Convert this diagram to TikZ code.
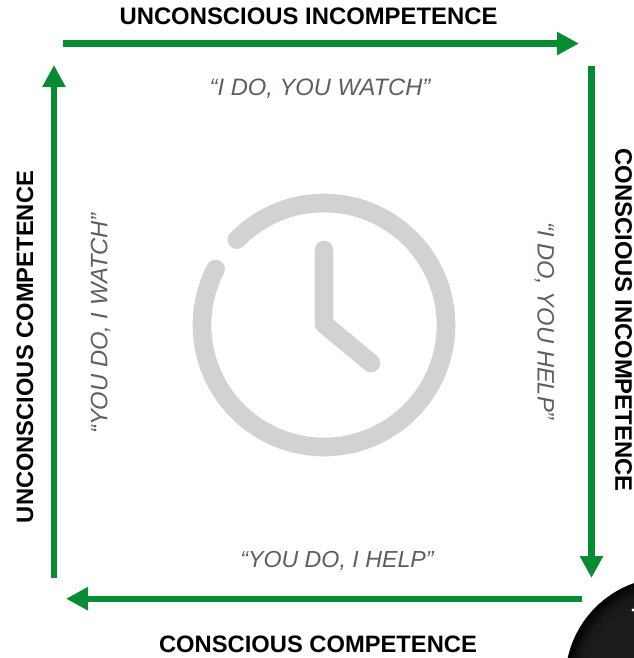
\documentclass[tikz,border=0pt]{standalone}
\usepackage{fontspec}
\setmainfont{Liberation Sans}
\usetikzlibrary{arrows.meta}
\definecolor{arrowgreen}{HTML}{078B33}
\definecolor{quotegray}{HTML}{5A5F66}
\definecolor{clockgray}{HTML}{D2D2D2}
\tikzset{
  x=0.75pt,y=-0.75pt,
  cycleArrow/.style={draw=arrowgreen,line width=4.6pt,-{Triangle[length=16.5pt,width=16.5pt,fill=arrowgreen]}},
  stageLabel/.style={font=\fontsize{17.9pt}{20pt}\selectfont\bfseries,text=black,inner sep=0pt},
  stageLabelTight/.style={font=\fontsize{17.8pt}{20pt}\selectfont\bfseries,text=black,inner sep=0pt},
  quoteLabel/.style={font=\fontsize{17.8pt}{20pt}\selectfont\itshape,text=quotegray,inner sep=0pt},
  quoteLabelTight/.style={font=\fontsize{17.4pt}{20pt}\selectfont\itshape,text=quotegray,inner sep=0pt},
  clockStroke/.style={draw=clockgray,line width=14pt,line cap=round,line join=round},
}
\begin{document}
\begin{tikzpicture}
\useasboundingbox (0,0) rectangle (634,658);
% dark sphere, cut by the picture edge
\begin{scope}
  \clip (0,0) rectangle (634,658);
  \fill[black!99] (668,680) circle[radius=77pt];
  \foreach \r/\k in {76/98,74/96,72/94,70/92,67/90,62/89}
    \fill[black!\k] (668,680) circle[radius=\r pt];
  \fill[white] (633,610) circle[radius=1.2pt];
\end{scope}
% clock
\draw[clockStroke] (324,325) ++(135.6:91.5pt) arc[start angle=135.6,end angle=-207.3,radius=91.5pt];
\draw[clockStroke] (324,250) -- (324,324) -- (371,363);
% arrows
\coordinate (topA) at (63,43.5);
\coordinate (topB) at (579,43.5);
\coordinate (rightA) at (591.5,66);
\coordinate (rightB) at (591.5,578);
\coordinate (botA) at (582,598.7);
\coordinate (botB) at (66,598.7);
\coordinate (leftA) at (54,578);
\coordinate (leftB) at (54,65);
\draw[cycleArrow] (topA) -- (topB);
\draw[cycleArrow] (rightA) -- (rightB);
\draw[cycleArrow] (botA) -- (botB);
\draw[cycleArrow] (leftA) -- (leftB);
% stage labels
\node[stageLabel] (ui) at (308.5,16) {UNCONSCIOUS INCOMPETENCE};
\node[stageLabel,rotate=-90] (ci) at (623.5,320) {CONSCIOUS INCOMPETENCE};
\node[stageLabelTight] (cc) at (318,644) {CONSCIOUS COMPETENCE};
\node[stageLabelTight,rotate=90] (uc) at (25,347) {UNCONSCIOUS COMPETENCE};
% quotes
\node[quoteLabel] (q1) at (320,88.5) {“I DO, YOU WATCH”};
\node[quoteLabel,rotate=-90] (q2) at (544.5,321) {“I DO, YOU HELP”};
\node[quoteLabelTight] (q3) at (337,560.5) {“YOU DO, I HELP”};
\node[quoteLabel,rotate=90] (q4) at (100.5,323.5) {“YOU DO, I WATCH”};
\end{tikzpicture}
\end{document}
